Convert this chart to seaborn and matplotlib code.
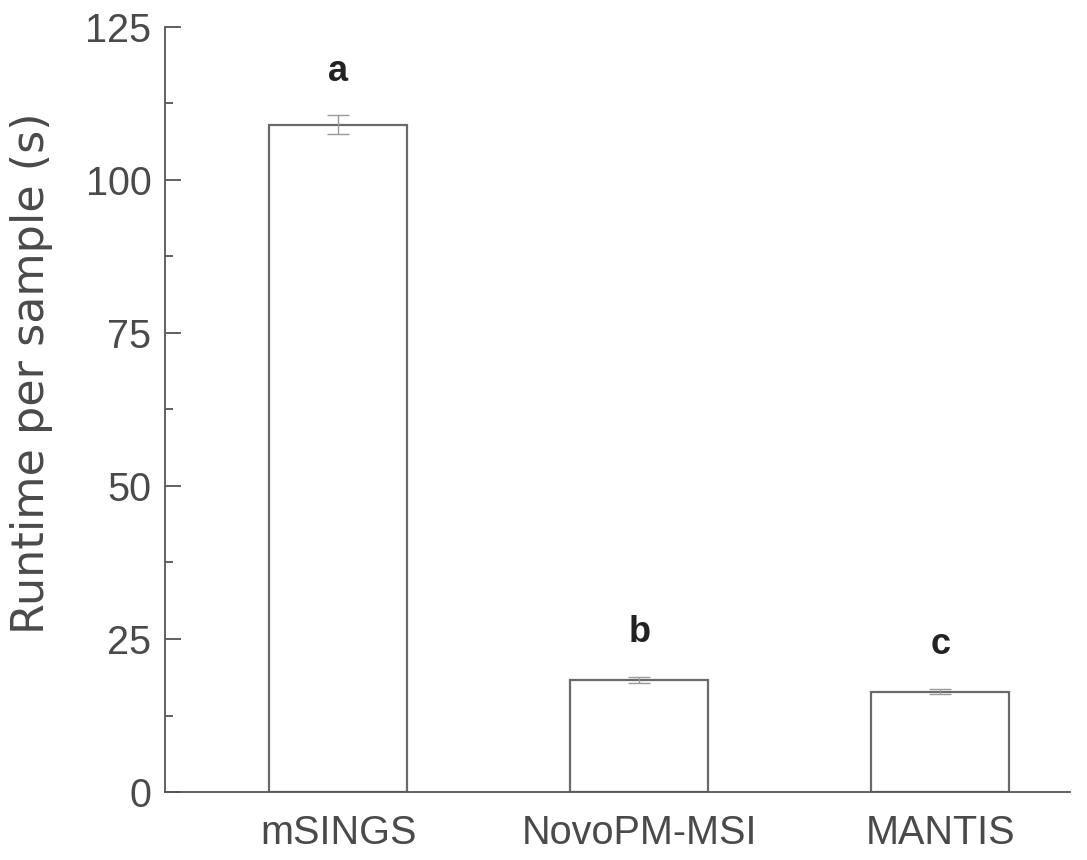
import matplotlib
matplotlib.use("Agg")
import matplotlib.pyplot as plt
import seaborn as sns
import pandas as pd
from matplotlib.ticker import MultipleLocator

tools = ["mSINGS", "NovoPM-MSI", "MANTIS"]
runtime = [109.0, 18.3, 16.4]
errors = [1.5, 0.5, 0.4]
letters = ["a", "b", "c"]

sns.set_style("ticks")
plt.rcParams['font.family'] = ['Liberation Sans', 'DejaVu Sans']

df = pd.DataFrame({"tool": tools, "runtime": runtime})

fig = plt.figure(figsize=(10.87, 8.6), dpi=100)
ax = fig.add_axes([0.152, 0.079, 0.832, 0.890])

sns.barplot(data=df, x="tool", y="runtime", order=tools, errorbar=None,
            color="white", edgecolor="#6a6a6a", linewidth=1.6, width=0.46, ax=ax)

ax.errorbar(range(len(tools)), runtime, yerr=errors, fmt="none",
            ecolor="#9a9a9a", elinewidth=1.0, capsize=8, capthick=1.0)

for i, (v, e, l) in enumerate(zip(runtime, errors, letters)):
    ax.text(i, v + e + 4.4, l, ha="center", va="bottom", fontsize=26,
            fontweight="bold", color="#222222")

ax.set_ylim(0, 125)
ax.set_xlim(-0.575, 2.43)
ax.yaxis.set_major_locator(MultipleLocator(25))
ax.yaxis.set_minor_locator(MultipleLocator(12.5))
ax.tick_params(axis="y", which="major", direction="in", length=11.5, width=1.3,
               color="#555555", labelsize=28.5, labelcolor="#4a4a4a", pad=10)
ax.tick_params(axis="y", which="minor", direction="in", length=6, width=1.3,
               color="#555555")
ax.tick_params(axis="x", length=0, labelsize=28.5, labelcolor="#4a4a4a", pad=16)

ax.set_xlabel("")
ax.set_ylabel("Runtime per sample (s)", fontsize=32, color="#4a4a4a",
              family=["DejaVu Sans"])
ax.yaxis.set_label_coords(-0.124, 0.547)

sns.despine(ax=ax)
for s in ["left", "bottom"]:
    ax.spines[s].set_color("#555555")
    ax.spines[s].set_linewidth(1.3)

fig.savefig("out.png", dpi=100)
